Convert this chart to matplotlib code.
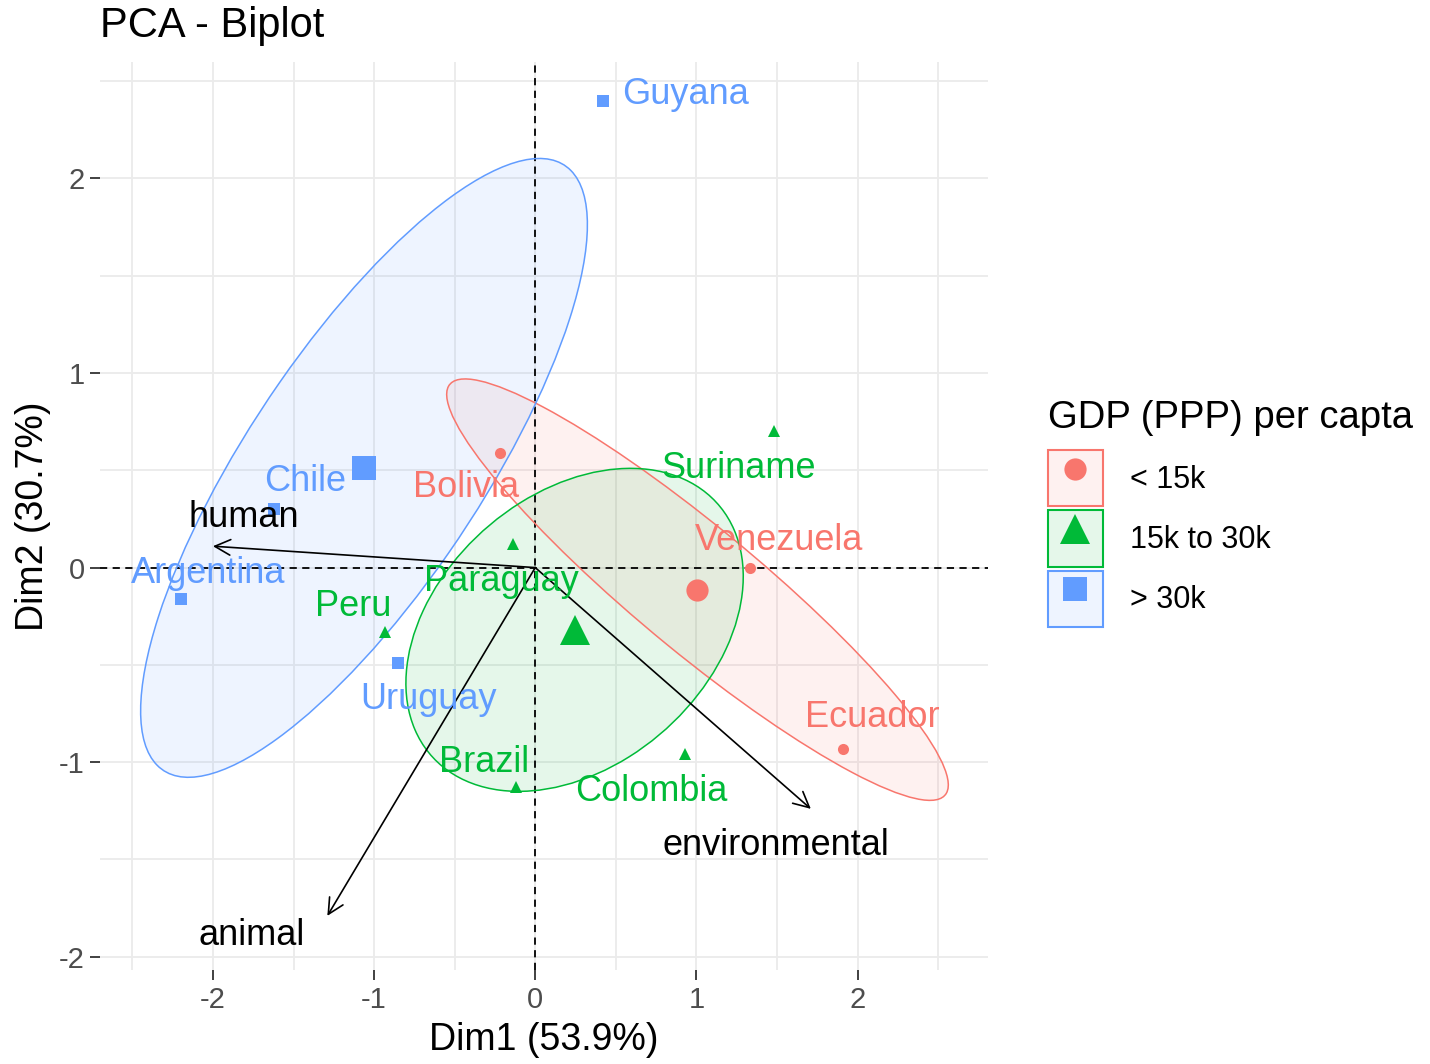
import matplotlib
matplotlib.use("Agg")
import matplotlib.pyplot as plt
import numpy as np
from matplotlib.patches import Ellipse, Rectangle
from matplotlib.lines import Line2D
from matplotlib.legend_handler import HandlerTuple

plt.rcParams['font.family'] = ['Liberation Sans', 'DejaVu Sans']
plt.rcParams['axes.unicode_minus'] = False

# individuals (PCA coordinates)
countries = ['Bolivia', 'Venezuela', 'Ecuador',
             'Paraguay', 'Peru', 'Suriname', 'Colombia', 'Brazil',
             'Guyana', 'Chile', 'Argentina', 'Uruguay']
dim1 = [-0.22, 1.33, 1.91,
        -0.14, -0.93, 1.48, 0.93, -0.12,
        0.42, -1.62, -2.20, -0.85]
dim2 = [0.59, 0.00, -0.93,
        0.12, -0.33, 0.70, -0.96, -1.13,
        2.40, 0.30, -0.16, -0.49]
group = ['< 15k'] * 3 + ['15k to 30k'] * 5 + ['> 30k'] * 4

groups = ['< 15k', '15k to 30k', '> 30k']
colors = ['#F8766D', '#00BA38', '#619CFF']
markers = ['o', '^', 's']

# variables (arrows)
variables = ['human', 'animal', 'environmental']
var_dim1 = [-2.00, -1.29, 1.71]
var_dim2 = [0.11, -1.79, -1.24]

# where the repelled labels ended up
lab_pos = {
    'Bolivia': (-0.43, 0.41), 'Venezuela': (1.51, 0.14), 'Ecuador': (2.09, -0.77),
    'Paraguay': (-0.21, -0.07), 'Peru': (-1.13, -0.20), 'Suriname': (1.26, 0.51),
    'Colombia': (0.72, -1.15), 'Brazil': (-0.32, -1.00), 'Guyana': (0.93, 2.43),
    'Chile': (-1.43, 0.44), 'Argentina': (-2.03, -0.03), 'Uruguay': (-0.66, -0.68),
}
var_lab_pos = {'human': (-1.81, 0.26), 'animal': (-1.76, -1.89),
               'environmental': (1.49, -1.43)}

dim1 = np.array(dim1)
dim2 = np.array(dim2)
group = np.array(group)

fig = plt.figure(figsize=(14.3, 10.64), dpi=100)
ax = fig.add_axes([0.070, 0.088, 0.621, 0.854])

ax.set_xlim(-2.70, 2.81)
ax.set_ylim(-2.07, 2.60)
ax.set_xticks([-2, -1, 0, 1, 2])
ax.set_yticks([-2, -1, 0, 1, 2])
ax.set_xticks(np.arange(-2.5, 3, 1.0), minor=True)
ax.set_yticks(np.arange(-1.5, 2.6, 1.0), minor=True)
ax.grid(True, which='both', color='#EBEBEB', linewidth=1.3)
ax.set_axisbelow(True)
for s in ax.spines.values():
    s.set_visible(False)
ax.tick_params(which='major', length=7, width=1.3, color='#333333',
               labelsize=21, labelcolor='#4D4D4D', pad=4)
ax.tick_params(which='minor', length=0)

ax.axhline(0, color='black', linestyle=(0, (4, 3)), linewidth=1.3, zorder=2)
ax.axvline(0, color='black', linestyle=(0, (4, 3)), linewidth=1.3, zorder=2)

# confidence ellipses around group means
r = np.sqrt(-2 * np.log(0.05))
for g, c in zip(groups, colors):
    m = group == g
    xs, ys = dim1[m], dim2[m]
    cov = np.cov(xs, ys) / m.sum()
    vals, vecs = np.linalg.eigh(cov)
    ang = np.degrees(np.arctan2(vecs[1, 1], vecs[0, 1]))
    w, h = 2 * r * np.sqrt(vals[1]), 2 * r * np.sqrt(vals[0])
    ax.add_patch(Ellipse((xs.mean(), ys.mean()), w, h, angle=ang,
                         facecolor=c, alpha=0.1, edgecolor='none', zorder=1))
    ax.add_patch(Ellipse((xs.mean(), ys.mean()), w, h, angle=ang,
                         facecolor='none', edgecolor=c, linewidth=1.1, zorder=3))

sizes = {'o': 8, '^': 9, 's': 8}
big = {'o': 16, '^': 21, 's': 17}
for g, c, mk in zip(groups, colors, markers):
    m = group == g
    ax.plot(dim1[m], dim2[m], linestyle='none', marker=mk, markersize=sizes[mk],
            color=c, markeredgewidth=0, zorder=4)
    ax.plot(dim1[m].mean(), dim2[m].mean(), linestyle='none', marker=mk,
            markersize=big[mk], color=c, markeredgewidth=0, zorder=4)

for name, g in zip(countries, group):
    c = colors[groups.index(g)]
    lx, ly = lab_pos[name]
    ax.text(lx, ly, name, color=c, fontsize=26, ha='center', va='center', zorder=6)

for v, vx, vy in zip(variables, var_dim1, var_dim2):
    ax.annotate('', xy=(vx, vy), xytext=(0, 0),
                arrowprops=dict(arrowstyle='->', color='black', lw=1.2,
                                mutation_scale=28, shrinkA=0, shrinkB=0), zorder=5)
    lx, ly = var_lab_pos[v]
    ax.text(lx, ly, v, color='black', fontsize=26, ha='center', va='center', zorder=6)

ax.set_xlabel('Dim1 (53.9%)', fontsize=27, color='black', labelpad=6)
ax.set_ylabel('Dim2 (30.7%)', fontsize=27, color='black', labelpad=6)
ax.set_title('PCA - Biplot', fontsize=30, loc='left', x=-0.0, pad=18)

handles = []
for c, mk in zip(colors, markers):
    box = Rectangle((0, 0), 1, 1, facecolor=(*matplotlib.colors.to_rgb(c), 0.1),
                    edgecolor=c, linewidth=1.5)
    pt = Line2D([], [], linestyle='none', marker=mk, color=c,
                markersize={'o': 16, '^': 22, 's': 17}[mk], markeredgewidth=0)
    handles.append((box, pt))
leg = fig.legend(handles, groups, handler_map={tuple: HandlerTuple(ndivide=1, pad=0)},
                 title='GDP (PPP) per capta', loc='upper left',
                 bbox_to_anchor=(0.722, 0.638), frameon=False, fontsize=22,
                 title_fontsize=27.5, handlelength=1.8, handleheight=2.45,
                 labelspacing=0.13, handletextpad=0.9, borderpad=0)
leg._legend_box.align = 'left'
leg._legend_box.sep = 10

fig.savefig('out.png', dpi=100)
